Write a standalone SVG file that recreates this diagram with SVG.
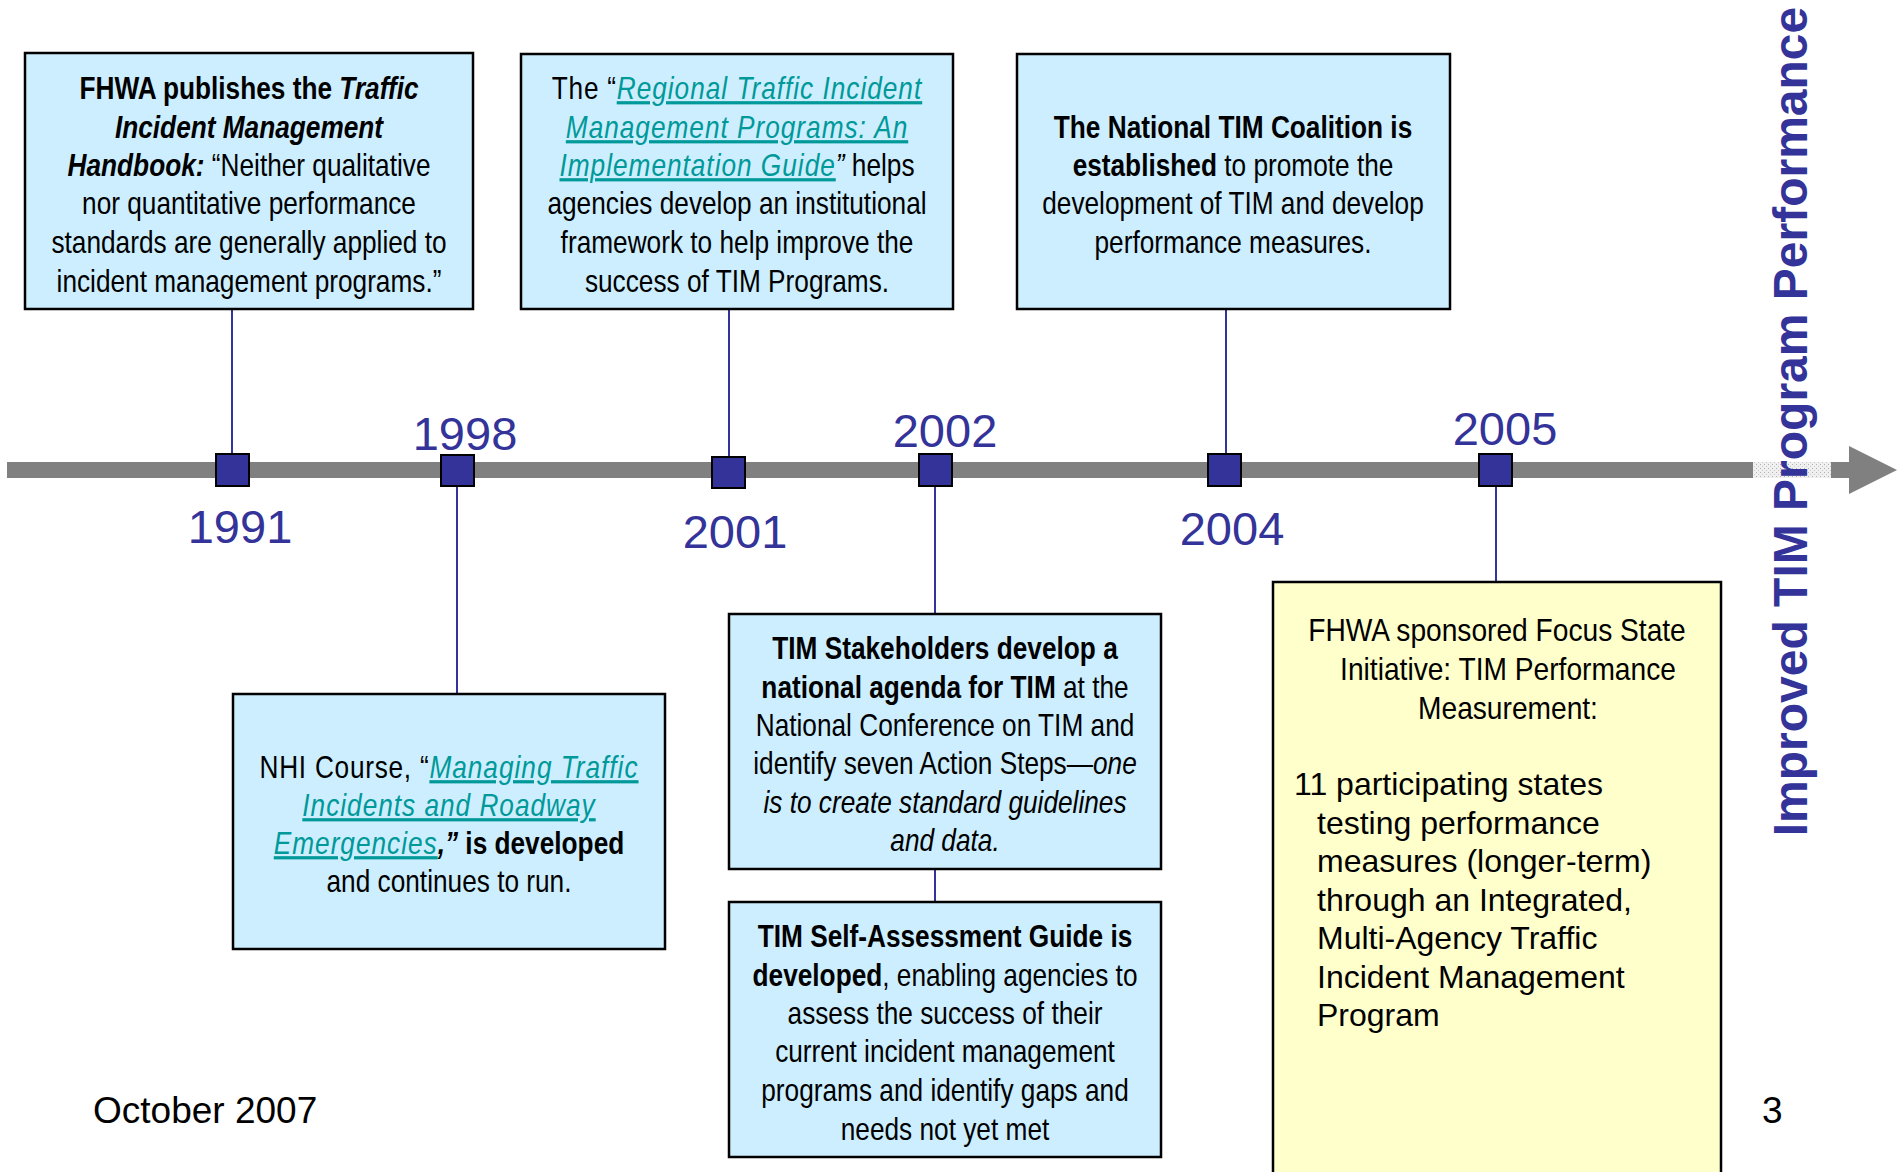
<svg xmlns="http://www.w3.org/2000/svg" width="1902" height="1172" viewBox="0 0 1902 1172">
<style>
.box{fill:#cceeff;stroke:#000;stroke-width:2.5}
.ybox{fill:#ffffcc;stroke:#000;stroke-width:2.5}
.n{font-family:"Liberation Sans",Arial,sans-serif;font-size:32px;fill:#000;text-anchor:middle}
.b{font-weight:bold}
.i{font-style:italic}
.sp{letter-spacing:0.9px}
.lk{font-style:italic;fill:#009999;text-decoration:underline;letter-spacing:1.2px}
.yr{font-family:"Liberation Sans",Arial,sans-serif;font-size:47px;fill:#333399;text-anchor:middle}
.mk{fill:#333399;stroke:#000;stroke-width:2}
.cn{stroke:#333399;stroke-width:2;fill:none}
.ar{font-family:"Liberation Sans",Arial,sans-serif;font-size:32px;fill:#000}
</style>
<defs>
<pattern id="dots" width="4" height="4" patternUnits="userSpaceOnUse">
<rect width="4" height="4" fill="#f0f0f0"/>
<rect width="1" height="1" fill="#b0b0b0"/>
<rect x="2" y="2" width="1" height="1" fill="#c8c8c8"/>
</pattern>
</defs>

<g id="timeline">
<rect x="7" y="462" width="1844" height="16" fill="#808080"/>
<rect x="1753" y="462" width="78" height="16" fill="url(#dots)"/>
<polygon points="1849,446 1897,470 1849,494" fill="#808080"/>
</g>

<g id="connectors">
<line class="cn" x1="232" y1="309" x2="232" y2="454"/>
<line class="cn" x1="457" y1="486" x2="457" y2="694"/>
<line class="cn" x1="729" y1="309" x2="729" y2="457"/>
<line class="cn" x1="935" y1="486" x2="935" y2="614"/>
<line class="cn" x1="935" y1="869" x2="935" y2="902"/>
<line class="cn" x1="1226" y1="309" x2="1226" y2="454"/>
<line class="cn" x1="1496" y1="486" x2="1496" y2="582"/>
</g>

<g id="markers">
<rect class="mk" x="216" y="454" width="33" height="32"/>
<rect class="mk" x="441" y="455" width="33" height="31"/>
<rect class="mk" x="712" y="457" width="33" height="31"/>
<rect class="mk" x="919" y="454" width="33" height="32"/>
<rect class="mk" x="1208" y="454" width="33" height="32"/>
<rect class="mk" x="1479" y="454" width="33" height="32"/>
</g>

<g id="years">
<text class="yr" x="240" y="543">1991</text>
<text class="yr" x="465" y="450">1998</text>
<text class="yr" x="735" y="548">2001</text>
<text class="yr" x="945" y="447">2002</text>
<text class="yr" x="1232" y="545">2004</text>
<text class="yr" x="1505" y="445">2005</text>
</g>

<g id="node-1991">
<rect class="box" x="25" y="53" width="448" height="256"/>
<g transform="translate(249 0) scale(0.82 1)">
<text class="n" x="0" y="99"><tspan class="b">FHWA publishes the </tspan><tspan class="b i">Traffic</tspan></text>
<text class="n" x="0" y="138"><tspan class="b i">Incident Management</tspan></text>
<text class="n" x="0" y="176"><tspan class="b i">Handbook:</tspan>  “Neither qualitative</text>
<text class="n" x="0" y="214">nor quantitative performance</text>
<text class="n" x="0" y="253">standards are generally applied to</text>
<text class="n" x="0" y="292">incident management programs.”</text>
</g>
</g>

<g id="node-2001">
<rect class="box" x="521" y="54" width="432" height="255"/>
<g transform="translate(737 0) scale(0.82 1)">
<text class="n" x="0" y="99"><tspan class="sp">The “</tspan><tspan class="lk">Regional Traffic Incident</tspan></text>
<text class="n" x="0" y="138"><tspan class="lk">Management Programs: An</tspan></text>
<text class="n" x="0" y="176"><tspan class="lk">Implementation Guide</tspan><tspan class="i">”</tspan> helps</text>
<text class="n" x="0" y="214">agencies develop an institutional</text>
<text class="n" x="0" y="253">framework to help improve the</text>
<text class="n" x="0" y="292">success of TIM Programs.</text>
</g>
</g>

<g id="node-2004">
<rect class="box" x="1017" y="54" width="433" height="255"/>
<g transform="translate(1233 0) scale(0.82 1)">
<text class="n" x="0" y="138"><tspan class="b">The National TIM Coalition is</tspan></text>
<text class="n" x="0" y="176"><tspan class="b">established</tspan> to promote the</text>
<text class="n" x="0" y="214">development of TIM and develop</text>
<text class="n" x="0" y="253">performance measures.</text>
</g>
</g>

<g id="node-1998">
<rect class="box" x="233" y="694" width="432" height="255"/>
<g transform="translate(449 0) scale(0.82 1)">
<text class="n" x="0" y="778"><tspan class="sp">NHI Course, “</tspan><tspan class="lk">Managing Traffic</tspan></text>
<text class="n" x="0" y="816"><tspan class="lk">Incidents and Roadway</tspan></text>
<text class="n" x="0" y="854"><tspan class="lk">Emergencies</tspan><tspan class="b i">,”</tspan><tspan class="b"> is developed</tspan></text>
<text class="n" x="0" y="892">and continues to run.</text>
</g>
</g>

<g id="node-2002a">
<rect class="box" x="729" y="614" width="432" height="255"/>
<g transform="translate(945 0) scale(0.82 1)">
<text class="n" x="0" y="659"><tspan class="b">TIM Stakeholders develop a</tspan></text>
<text class="n" x="0" y="698"><tspan class="b">national agenda for TIM</tspan> at the</text>
<text class="n" x="0" y="736">National Conference on TIM and</text>
<text class="n" x="0" y="774">identify seven Action Steps—<tspan class="i">one</tspan></text>
<text class="n" x="0" y="813"><tspan class="i">is to create standard guidelines</tspan></text>
<text class="n" x="0" y="851"><tspan class="i">and data.</tspan></text>
</g>
</g>

<g id="node-2002b">
<rect class="box" x="729" y="902" width="432" height="255"/>
<g transform="translate(945 0) scale(0.82 1)">
<text class="n" x="0" y="947"><tspan class="b">TIM Self-Assessment Guide is</tspan></text>
<text class="n" x="0" y="986"><tspan class="b">developed</tspan>, enabling agencies to</text>
<text class="n" x="0" y="1024">assess the success of their</text>
<text class="n" x="0" y="1062">current incident management</text>
<text class="n" x="0" y="1101">programs and identify gaps and</text>
<text class="n" x="0" y="1140">needs not yet met</text>
</g>
</g>

<g id="node-2005">
<rect class="ybox" x="1273" y="582" width="448" height="600"/>
<g transform="translate(1497 0) scale(0.88 1)">
<text class="n" x="0" y="641">FHWA sponsored Focus State</text>
</g>
<g transform="translate(1508 0) scale(0.88 1)">
<text class="n" x="0" y="680">Initiative: TIM Performance</text>
<text class="n" x="0" y="719">Measurement:</text>
</g>
<text class="ar" x="1294" y="795">11 participating states</text>
<text class="ar" x="1317" y="834">testing performance</text>
<text class="ar" x="1317" y="872">measures (longer-term)</text>
<text class="ar" x="1317" y="911">through an Integrated,</text>
<text class="ar" x="1317" y="949">Multi-Agency Traffic</text>
<text class="ar" x="1317" y="988">Incident Management</text>
<text class="ar" x="1317" y="1026">Program</text>
</g>

<g id="axis-label">
<text x="1807" y="421.5" transform="rotate(-90 1807 421.5)" font-family="Liberation Sans, Arial, sans-serif" font-size="48" font-weight="bold" fill="#333399" text-anchor="middle">Improved TIM Program Performance</text>
</g>

<g id="footer">
<text x="93" y="1123" font-family="Liberation Sans, Arial, sans-serif" font-size="37" fill="#000">October 2007</text>
<text x="1762" y="1123" font-family="Liberation Sans, Arial, sans-serif" font-size="37" fill="#000">3</text>
</g>
</svg>
